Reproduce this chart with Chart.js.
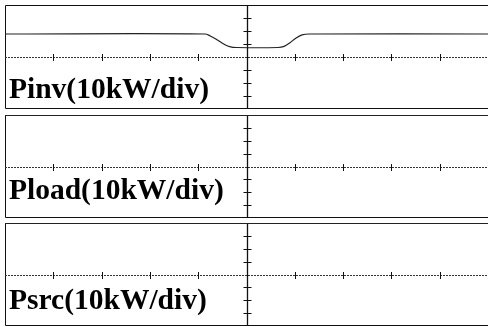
<!DOCTYPE html>
<html><head><meta charset="utf-8">
<script src="https://cdn.jsdelivr.net/npm/chart.js@4"></script>
<style>
html,body{margin:0;padding:0;background:#fff;}
#wrap{position:relative;width:488px;height:327px;overflow:hidden;background:#fff;}
canvas{position:absolute;}
.lbl{position:absolute;font-family:"Liberation Serif","DejaVu Serif",serif;font-weight:bold;font-size:29.5px;color:#000;line-height:1;white-space:nowrap;}
</style></head>
<body><div id="wrap">
<canvas id="c1" width="483" height="104" style="left:5px;top:5px"></canvas>
<canvas id="c2" width="483" height="103" style="left:5px;top:115px"></canvas>
<canvas id="c3" width="483" height="103" style="left:5px;top:223px"></canvas>
<div class="lbl" id="l1" style="left:9px;top:74px"></div>
<div class="lbl" id="l2" style="left:9px;top:175px"></div>
<div class="lbl" id="l3" style="left:9px;top:285px"></div>
</div>
<script>
// Labels
const panelLabels = ["Pinv(10kW/div)", "Pload(10kW/div)", "Psrc(10kW/div)"];
// time in divisions
const pinvTime = [-5, -0.86, -0.75, -0.62, -0.48, -0.35, -0.2, 0.65, 0.78, 0.9, 1.02, 1.15, 1.3, 5];
// power in kW (10 kW/div)
const pinvValues = [17.7, 17.7, 16.2, 13.5, 10.2, 8.0, 7.3, 7.3, 8.2, 11.0, 14.5, 17.0, 17.7, 17.7];
const ploadTime = [-5, 5];
const ploadValues = [39.7, 39.7];
const psrcTime = [-5, 5];
const psrcValues = [39.6, 39.6];

const scopePlugin = {
  id: 'scope',
  beforeDatasetsDraw(chart) {
    const ctx = chart.ctx, a = chart.chartArea;
    const xs = chart.scales.x, ys = chart.scales.y;
    const cx = Math.round(xs.getPixelForValue(0)) + 0.5;
    const cy = Math.round(ys.getPixelForValue(0)) + 0.5;
    ctx.save();
    ctx.strokeStyle = '#111';
    ctx.lineWidth = 1;
    ctx.beginPath();
    ctx.moveTo(a.right + 2, a.top + 0.5); ctx.lineTo(a.left + 0.5, a.top + 0.5);
    ctx.lineTo(a.left + 0.5, a.bottom - 0.5); ctx.lineTo(a.right + 2, a.bottom - 0.5);
    ctx.stroke();
    ctx.setLineDash([2, 1]);
    ctx.strokeStyle = '#333';
    ctx.beginPath(); ctx.moveTo(a.left, cy); ctx.lineTo(a.right, cy); ctx.stroke();
    ctx.setLineDash([]);
    ctx.strokeStyle = '#111';
    for (let k = -4; k <= 4; k++) {
      if (k === 0) continue;
      const x = Math.round(xs.getPixelForValue(k)) + 0.5;
      ctx.beginPath(); ctx.moveTo(x, cy - 3.5); ctx.lineTo(x, cy + 3.5); ctx.stroke();
    }
    ctx.lineWidth = 1.3;
    ctx.beginPath(); ctx.moveTo(cx, a.top); ctx.lineTo(cx, a.bottom); ctx.stroke();
    ctx.lineWidth = 1;
    for (let k = -30; k <= 30; k += 10) {
      if (k === 0) continue;
      const y = Math.round(ys.getPixelForValue(k)) + 0.5;
      ctx.beginPath(); ctx.moveTo(cx - 4, y); ctx.lineTo(cx + 4, y); ctx.stroke();
    }
    ctx.restore();
  }
};

function makeChart(id, t, v, label) {
  const pts = t.map((x, i) => ({x: x, y: v[i]}));
  return new Chart(document.getElementById(id), {
    type: 'line',
    data: { datasets: [{ label: label, data: pts, borderColor: '#222', borderWidth: 1.2,
      pointRadius: 0, tension: 0.35, fill: false, clip: 2 }] },
    options: {
      responsive: false, animation: false, devicePixelRatio: 1,
      layout: { padding: 0 },
      plugins: { legend: { display: false }, tooltip: { enabled: false } },
      scales: {
        x: { type: 'linear', min: -5, max: 5, display: false },
        y: { type: 'linear', min: -40, max: 40, display: false }
      }
    },
    plugins: [scopePlugin]
  });
}
makeChart('c1', pinvTime, pinvValues, panelLabels[0]);
makeChart('c2', ploadTime, ploadValues, panelLabels[1]);
makeChart('c3', psrcTime, psrcValues, panelLabels[2]);
document.getElementById('l1').textContent = panelLabels[0];
document.getElementById('l2').textContent = panelLabels[1];
document.getElementById('l3').textContent = panelLabels[2];
</script>
</body></html>
